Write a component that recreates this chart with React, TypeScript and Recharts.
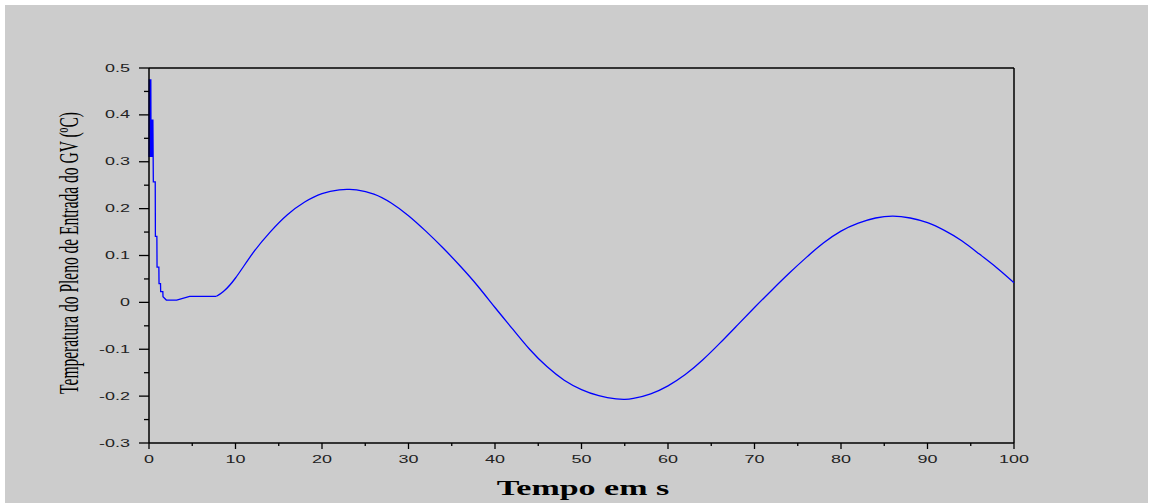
import { LineChart, Line, XAxis, YAxis, ReferenceLine } from 'recharts';

// initial transient: time (s) and plenum inlet temperature deviation (°C)
const TIME_START = [
  0, 0.03, 0.06, 0.09, 0.12, 0.15, 0.18, 0.21, 0.24, 0.27, 0.3, 0.33, 0.36, 0.39, 0.42, 0.45,
  0.48, 0.5, 0.72, 0.74, 0.91, 0.93, 1.14, 1.16, 1.33, 1.35, 1.6, 1.62, 2.0, 3.2, 4.7, 7.8,
];
const TEMP_START = [
  0.31, 0.476, 0.31, 0.476, 0.31, 0.476, 0.31, 0.476, 0.31, 0.39, 0.31, 0.39, 0.31, 0.39, 0.31, 0.39,
  0.31, 0.257, 0.257, 0.141, 0.141, 0.075, 0.075, 0.04, 0.04, 0.023, 0.023, 0.012, 0.005, 0.005, 0.013, 0.013,
];

// slow oscillation afterwards
const TIME_OSC = [
  7.8, 8.6, 10, 12, 14, 16, 18, 20, 22, 23, 24, 26, 28, 30, 32, 34, 36, 38, 40, 42, 44, 46, 48,
  50, 52, 54, 55, 56, 58, 60, 62, 64, 66, 68, 70, 72, 74, 76, 78, 80, 82, 84, 86, 88, 90, 92,
  94, 96, 98, 100,
];
const TEMP_OSC = [
  0.013, 0.023, 0.052, 0.105, 0.15, 0.187, 0.214, 0.232, 0.24, 0.241, 0.24, 0.231, 0.212, 0.185,
  0.152, 0.116, 0.077, 0.035, -0.011, -0.056, -0.1, -0.137, -0.166, -0.186, -0.199, -0.206,
  -0.207, -0.205, -0.195, -0.178, -0.154, -0.123, -0.087, -0.049, -0.011, 0.026, 0.062, 0.096,
  0.127, 0.152, 0.169, 0.18, 0.184, 0.18, 0.17, 0.153, 0.131, 0.103, 0.074, 0.042,
];

const X_TICKS = [0, 5, 10, 15, 20, 25, 30, 35, 40, 45, 50, 55, 60, 65, 70, 75, 80, 85, 90, 95, 100];
const Y_TICKS = [-0.3, -0.25, -0.2, -0.15, -0.1, -0.05, 0, 0.05, 0.1, 0.15, 0.2, 0.25, 0.3, 0.35, 0.4, 0.45, 0.5];

const startData = TIME_START.map((t, i) => ({ t, v: TEMP_START[i] }));
const oscData = TIME_OSC.map((t, i) => ({ t, v: TEMP_OSC[i] }));

const TICK_FONT = '"Liberation Sans", Arial, sans-serif';
const STRETCH = 1.8;

const YTick = (props: any) => {
  const { x, y, payload } = props;
  const v = payload.value as number;
  const major = Math.abs(v * 10 - Math.round(v * 10)) < 1e-6;
  return (
    <g>
      <line x1={x} x2={x - (major ? 10 : 5)} y1={y} y2={y} stroke="#000" strokeWidth={1.3} />
      {major && (
        <text
          transform={`translate(${x - 19},${y + 3.5}) scale(${STRETCH},1)`}
          textAnchor="end"
          fontSize={10}
          fontFamily={TICK_FONT}
          fill="#222"
        >
          {v === 0 ? '0' : v.toFixed(1)}
        </text>
      )}
    </g>
  );
};

const XTick = (props: any) => {
  const { x, y, payload } = props;
  const v = payload.value as number;
  const major = v % 10 === 0;
  return (
    <g>
      <line x1={x} x2={x} y1={y} y2={y + (major ? 6 : 3)} stroke="#000" strokeWidth={1.3} />
      {major && (
        <text
          transform={`translate(${x},${y + 20}) scale(${STRETCH},1)`}
          textAnchor="middle"
          fontSize={10}
          fontFamily={TICK_FONT}
          fill="#222"
        >
          {v}
        </text>
      )}
    </g>
  );
};

export default function App() {
  return (
    <div style={{ position: 'absolute', left: 0, top: 0, width: 1153, height: 503, background: '#fff' }}>
      <div style={{ position: 'absolute', left: 5, top: 5, width: 1143, height: 498, background: '#cccccc' }} />
      <div style={{ position: 'absolute', left: 0, top: 0 }}>
        <LineChart width={1153} height={503} margin={{ top: 68, right: 139, bottom: 30, left: 89 }}>
          <XAxis
            dataKey="t"
            type="number"
            domain={[0, 100]}
            ticks={X_TICKS}
            interval={0}
            height={30}
            tickSize={0}
            tickMargin={0}
            tickLine={false}
            axisLine={{ stroke: '#000', strokeWidth: 1.5 }}
            tick={<XTick />}
            allowDuplicatedCategory={false}
          />
          <YAxis
            type="number"
            domain={[-0.3, 0.5]}
            ticks={Y_TICKS}
            interval={0}
            width={60}
            tickSize={0}
            tickMargin={0}
            tickLine={false}
            axisLine={{ stroke: '#000', strokeWidth: 1.5 }}
            tick={<YTick />}
            allowDataOverflow
          />
          <ReferenceLine y={0.5} stroke="#000" strokeWidth={1.5} />
          <ReferenceLine x={100} stroke="#000" strokeWidth={1.5} />
          <Line
            data={startData}
            dataKey="v"
            type="linear"
            stroke="#0000ff"
            strokeWidth={1.3}
            dot={false}
            isAnimationActive={false}
          />
          <Line
            data={oscData}
            dataKey="v"
            type="natural"
            stroke="#0000ff"
            strokeWidth={1.3}
            dot={false}
            isAnimationActive={false}
          />
          <text
            transform={`translate(583,495) scale(1.7,1)`}
            textAnchor="middle"
            fontSize={20}
            fontWeight="bold"
            fontFamily='"Liberation Serif", "Times New Roman", serif'
            fill="#000"
          >
            Tempo em s
          </text>
          <text
            transform={`translate(78,253) scale(1.75,1) rotate(-90)`}
            textAnchor="middle"
            fontSize={15.5}
            fontFamily='"Liberation Serif", "Times New Roman", serif'
            fill="#000"
          >
            Temperatura do Pleno de Entrada do GV (ºC)
          </text>
        </LineChart>
      </div>
    </div>
  );
}
